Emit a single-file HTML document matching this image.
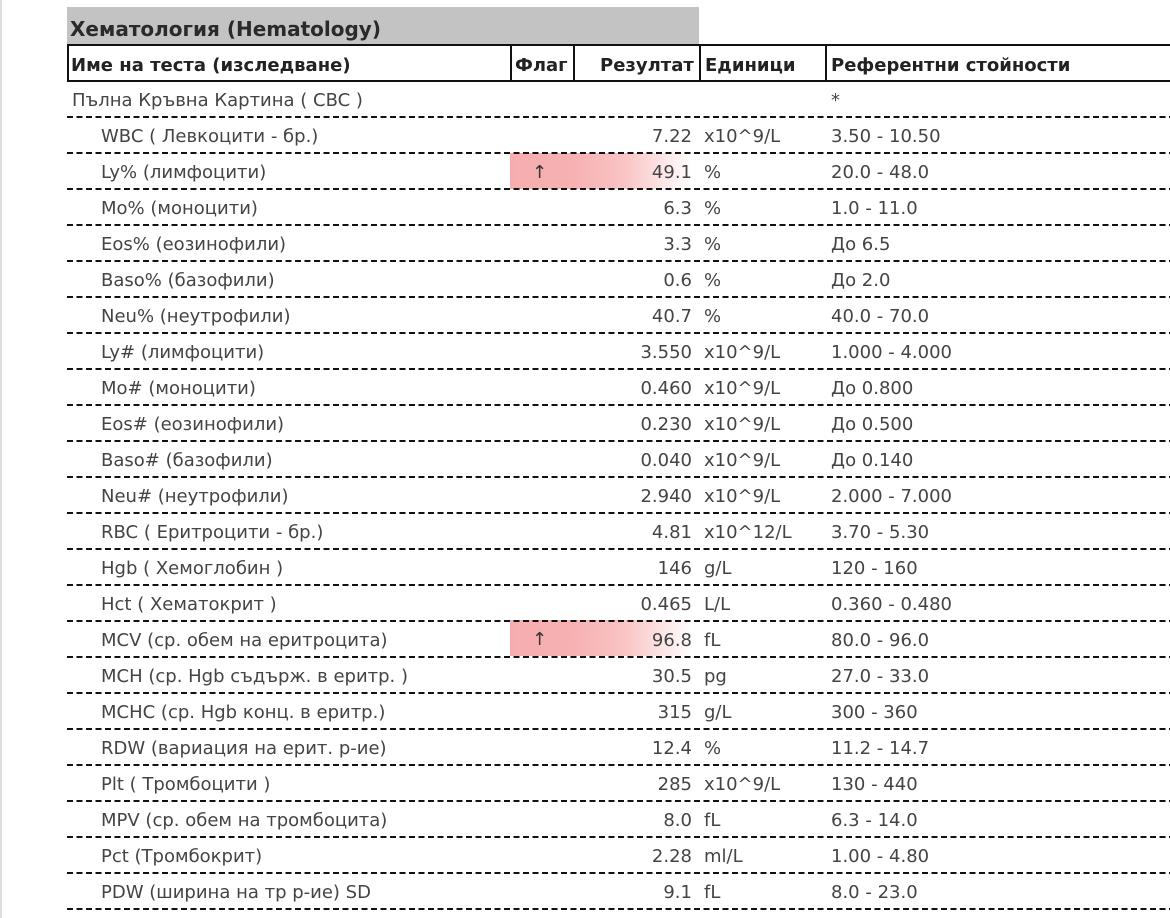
<!DOCTYPE html>
<html><head><meta charset="utf-8">
<style>
html,body{margin:0;padding:0;background:#fff;}
body{width:1170px;height:918px;position:relative;overflow:hidden;font-family:"DejaVu Sans","Liberation Sans",sans-serif;color:#444;}
.edge{position:absolute;left:0;top:0;width:2px;height:918px;background:#dedede;}
.title{position:absolute;left:67px;top:7px;width:632px;height:37px;background:#c3c3c3;}
.title span{position:absolute;left:3px;top:11px;font-weight:bold;font-size:20px;color:#2a2a2a;line-height:22px;white-space:nowrap;}
.hdr{position:absolute;left:67px;top:44px;width:1120px;height:34px;border:2px solid #111;border-right:none;}
.hdr .v{position:absolute;top:0;width:2px;height:34px;background:#111;}
.hdr span{position:absolute;top:2px;line-height:36px;font-weight:bold;font-size:18px;color:#222;white-space:nowrap;}
.row{position:absolute;left:67px;width:1110px;height:36px;font-size:18px;}
.row span{position:absolute;top:2px;line-height:36px;white-space:nowrap;}
.row .n{left:34px;}
.row .r{right:485px;text-align:right;}
.row .u{left:637px;}
.row .f{left:764px;}
.dash{position:absolute;left:67px;width:1110px;height:2px;background:repeating-linear-gradient(to right,#111 0,#111 6px,transparent 6px,transparent 9.5px);}
.pink{position:absolute;left:510px;width:183px;height:36px;background:linear-gradient(to right,#f6adaf 0,#f7b1b3 34%,#f9c3c4 62%,#ffffff 100%);}
.arrow{position:absolute;left:532px;width:16px;height:36px;line-height:40px;font-size:18px;color:#333;}
</style></head><body>
<div class="edge"></div>
<div class="title"><span>Хематология (Hematology)</span></div>
<div class="hdr">
  <div class="v" style="left:441px"></div>
  <div class="v" style="left:504px"></div>
  <div class="v" style="left:630px"></div>
  <div class="v" style="left:756px"></div>
  <span style="left:2px">Име на теста (изследване)</span>
  <span style="left:446px">Флаг</span>
  <span style="left:531px">Резултат</span>
  <span style="left:636px">Единици</span>
  <span style="left:762px">Референтни стойности</span>
</div>

<div class="pink" style="top:153px"></div>
<div class="arrow" style="top:153px">↑</div>
<div class="pink" style="top:620px"></div>
<div class="arrow" style="top:620px">↑</div>

<div class="row" style="top:81px"><span style="left:5px">Пълна Кръвна Картина ( CBC )</span><span class="f">*</span></div>
<div class="dash" style="top:116px"></div>

<div class="row" style="top:117px"><span class="n">WBC ( Левкоцити - бр.)</span><span class="r">7.22</span><span class="u">x10^9/L</span><span class="f">3.50 - 10.50</span></div>
<div class="dash" style="top:152px"></div>
<div class="row" style="top:153px"><span class="n">Ly% (лимфоцити)</span><span class="r">49.1</span><span class="u">%</span><span class="f">20.0 - 48.0</span></div>
<div class="dash" style="top:188px"></div>
<div class="row" style="top:189px"><span class="n">Mo% (моноцити)</span><span class="r">6.3</span><span class="u">%</span><span class="f">1.0 - 11.0</span></div>
<div class="dash" style="top:224px"></div>
<div class="row" style="top:225px"><span class="n">Eos% (еозинофили)</span><span class="r">3.3</span><span class="u">%</span><span class="f">До 6.5</span></div>
<div class="dash" style="top:260px"></div>
<div class="row" style="top:261px"><span class="n">Baso% (базофили)</span><span class="r">0.6</span><span class="u">%</span><span class="f">До 2.0</span></div>
<div class="dash" style="top:296px"></div>
<div class="row" style="top:297px"><span class="n">Neu% (неутрофили)</span><span class="r">40.7</span><span class="u">%</span><span class="f">40.0 - 70.0</span></div>
<div class="dash" style="top:332px"></div>
<div class="row" style="top:333px"><span class="n">Ly# (лимфоцити)</span><span class="r">3.550</span><span class="u">x10^9/L</span><span class="f">1.000 - 4.000</span></div>
<div class="dash" style="top:368px"></div>
<div class="row" style="top:369px"><span class="n">Mo# (моноцити)</span><span class="r">0.460</span><span class="u">x10^9/L</span><span class="f">До 0.800</span></div>
<div class="dash" style="top:404px"></div>
<div class="row" style="top:405px"><span class="n">Eos# (еозинофили)</span><span class="r">0.230</span><span class="u">x10^9/L</span><span class="f">До 0.500</span></div>
<div class="dash" style="top:440px"></div>
<div class="row" style="top:441px"><span class="n">Baso# (базофили)</span><span class="r">0.040</span><span class="u">x10^9/L</span><span class="f">До 0.140</span></div>
<div class="dash" style="top:476px"></div>
<div class="row" style="top:477px"><span class="n">Neu# (неутрофили)</span><span class="r">2.940</span><span class="u">x10^9/L</span><span class="f">2.000 - 7.000</span></div>
<div class="dash" style="top:512px"></div>
<div class="row" style="top:513px"><span class="n">RBC ( Еритроцити - бр.)</span><span class="r">4.81</span><span class="u">x10^12/L</span><span class="f">3.70 - 5.30</span></div>
<div class="dash" style="top:548px"></div>
<div class="row" style="top:549px"><span class="n">Hgb ( Хемоглобин )</span><span class="r">146</span><span class="u">g/L</span><span class="f">120 - 160</span></div>
<div class="dash" style="top:584px"></div>
<div class="row" style="top:585px"><span class="n">Hct ( Хематокрит )</span><span class="r">0.465</span><span class="u">L/L</span><span class="f">0.360 - 0.480</span></div>
<div class="dash" style="top:620px"></div>
<div class="row" style="top:621px"><span class="n">MCV (ср. обем на еритроцита)</span><span class="r">96.8</span><span class="u">fL</span><span class="f">80.0 - 96.0</span></div>
<div class="dash" style="top:656px"></div>
<div class="row" style="top:657px"><span class="n">MCH (ср. Hgb съдърж. в еритр. )</span><span class="r">30.5</span><span class="u">pg</span><span class="f">27.0 - 33.0</span></div>
<div class="dash" style="top:692px"></div>
<div class="row" style="top:693px"><span class="n">MCHC (ср. Hgb конц. в еритр.)</span><span class="r">315</span><span class="u">g/L</span><span class="f">300 - 360</span></div>
<div class="dash" style="top:728px"></div>
<div class="row" style="top:729px"><span class="n">RDW (вариация на ерит. р-ие)</span><span class="r">12.4</span><span class="u">%</span><span class="f">11.2 - 14.7</span></div>
<div class="dash" style="top:764px"></div>
<div class="row" style="top:765px"><span class="n">Plt ( Тромбоцити )</span><span class="r">285</span><span class="u">x10^9/L</span><span class="f">130 - 440</span></div>
<div class="dash" style="top:800px"></div>
<div class="row" style="top:801px"><span class="n">MPV (ср. обем на тромбоцита)</span><span class="r">8.0</span><span class="u">fL</span><span class="f">6.3 - 14.0</span></div>
<div class="dash" style="top:836px"></div>
<div class="row" style="top:837px"><span class="n">Pct (Тромбокрит)</span><span class="r">2.28</span><span class="u">ml/L</span><span class="f">1.00 - 4.80</span></div>
<div class="dash" style="top:872px"></div>
<div class="row" style="top:873px"><span class="n">PDW (ширина на тр р-ие) SD</span><span class="r">9.1</span><span class="u">fL</span><span class="f">8.0 - 23.0</span></div>
<div class="dash" style="top:908px"></div>
</body></html>
